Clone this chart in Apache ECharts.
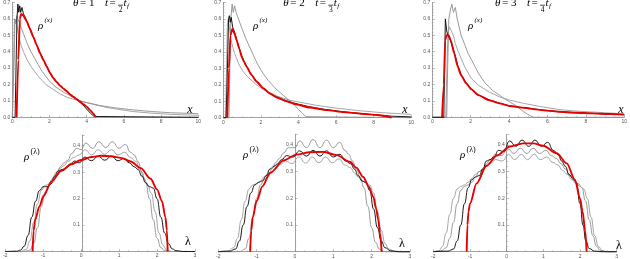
<!DOCTYPE html>
<html><head><meta charset="utf-8">
<script src="https://cdn.jsdelivr.net/npm/echarts@6/dist/echarts.min.js"></script>
<style>html,body{margin:0;padding:0;background:#fff}#c{width:630px;height:259px}</style>
</head><body><div id="c"></div>
<script>
// ---------- data: top row, rho^(x) ----------
const top1Red = [[0.23,0],[0.32,0.35],[0.41,0.6],[0.47,0.63],[0.59,0.62],[0.77,0.586],[0.95,0.54],[1.13,0.49],[1.31,0.44],[1.49,0.39],[1.67,0.35],[1.85,0.31],[2.03,0.27],[2.2,0.24],[2.38,0.216],[2.56,0.194],[2.74,0.176],[2.92,0.16],[3.1,0.14],[3.28,0.125],[3.46,0.11],[3.64,0.095],[3.82,0.08],[4.0,0.065],[4.18,0.044],[4.35,0.024],[4.44,0.01],[4.48,0]];
const top1Black = [[0,0],[0.15,0],[0.2,0.3],[0.25,0.6],[0.3,0.69],[0.35,0.64],[0.4,0.68],[0.45,0.64],[0.52,0.67],[0.6,0.63],[0.7,0.61],[0.8,0.58],[0.9,0.55],[1.0,0.52],[1.1,0.5],[1.2,0.47],[1.3,0.445],[1.4,0.42],[1.6,0.37],[1.8,0.32],[2.0,0.275],[2.2,0.24],[2.4,0.21],[2.6,0.19],[2.8,0.17],[3.0,0.15],[3.2,0.13],[3.4,0.115],[3.6,0.095],[3.8,0.075],[4.0,0.05],[4.2,0.025],[4.4,0.005],[4.5,0],[10,0]];
const top1GrayA = [[0,0],[0.06,0],[0.1,0.35],[0.14,0.6],[0.2,0.58],[0.25,0.62],[0.3,0.6],[0.4,0.57],[0.5,0.54],[0.6,0.51],[0.8,0.45],[1.0,0.4],[1.2,0.36],[1.4,0.32],[1.6,0.28],[1.8,0.25],[2.0,0.22],[2.2,0.2],[2.4,0.18],[2.6,0.165],[2.8,0.15],[3.0,0.14],[3.2,0.125],[3.5,0.11],[3.8,0.095],[4.2,0.085],[4.7,0.072],[5.5,0.058],[6.5,0.045],[7.5,0.035],[8.5,0.028],[10,0.022]];
const top1GrayB = [[0,0],[0.04,0],[0.08,0.4],[0.12,0.6],[0.17,0.57],[0.22,0.6],[0.3,0.52],[0.4,0.47],[0.5,0.43],[0.6,0.4],[0.8,0.35],[1.0,0.31],[1.2,0.28],[1.4,0.25],[1.6,0.225],[1.8,0.2],[2.0,0.185],[2.2,0.17],[2.4,0.155],[2.6,0.14],[2.8,0.13],[3.0,0.12],[3.3,0.11],[3.6,0.1],[4.0,0.09],[4.5,0.075],[5,0.062],[5.5,0.052],[6.5,0.035],[7.5,0.025],[8.5,0.018],[10,0.012]];

const top2Red = [[0.21,0],[0.3,0.3],[0.38,0.5],[0.48,0.54],[0.6,0.51],[0.71,0.47],[0.85,0.42],[0.98,0.37],[1.1,0.34],[1.24,0.31],[1.5,0.26],[1.77,0.22],[2.13,0.18],[2.48,0.147],[2.84,0.123],[3.37,0.1],[3.9,0.08],[4.6,0.062],[5.5,0.046],[6.4,0.034],[7.3,0.024],[8.2,0.016],[8.6,0.01],[8.95,0]];
const top2Black = [[0,0],[0.15,0],[0.22,0.3],[0.28,0.6],[0.32,0.62],[0.37,0.58],[0.42,0.61],[0.5,0.55],[0.6,0.52],[0.7,0.48],[0.85,0.42],[1.0,0.37],[1.2,0.32],[1.4,0.28],[1.6,0.245],[1.8,0.215],[2.0,0.19],[2.3,0.16],[2.6,0.14],[3.0,0.118],[3.5,0.097],[4,0.082],[4.6,0.066],[5.5,0.049],[6.4,0.036],[7.3,0.026],[8.2,0.016],[9,0.009],[10,0.005]];
const top2GrayA = [[0,0],[0.3,0],[0.35,0.3],[0.4,0.6],[0.47,0.69],[0.53,0.64],[0.6,0.68],[0.68,0.64],[0.78,0.61],[0.9,0.57],[1.0,0.54],[1.2,0.48],[1.4,0.43],[1.6,0.38],[1.8,0.33],[2.0,0.29],[2.2,0.255],[2.4,0.225],[2.6,0.2],[2.8,0.175],[3.0,0.155],[3.2,0.135],[3.4,0.115],[3.6,0.095],[3.8,0.075],[4.0,0.05],[4.2,0.027],[4.4,0.006],[4.5,0],[10,0]];
const top2GrayB = [[0,0],[0.12,0],[0.17,0.3],[0.22,0.58],[0.27,0.6],[0.32,0.55],[0.4,0.48],[0.5,0.43],[0.6,0.39],[0.71,0.36],[0.85,0.32],[1.0,0.29],[1.2,0.26],[1.42,0.235],[1.77,0.2],[2.13,0.17],[2.5,0.15],[2.84,0.132],[3.2,0.118],[3.55,0.106],[4.26,0.09],[4.96,0.075],[6.0,0.058],[7.3,0.042],[8.5,0.03],[10,0.02]];

const top3Red = [[0.51,0],[0.6,0.2],[0.67,0.47],[0.74,0.5],[0.85,0.5],[0.96,0.47],[1.14,0.39],[1.32,0.31],[1.5,0.256],[1.77,0.206],[2.04,0.17],[2.4,0.135],[2.95,0.105],[3.49,0.085],[4.03,0.069],[4.76,0.058],[5.66,0.044],[6.56,0.034],[7.47,0.028],[8.37,0.024],[9.28,0.02],[10,0.016]];
const top3Black = [[0,0],[0.6,0],[0.64,0.3],[0.68,0.6],[0.72,0.61],[0.76,0.52],[0.82,0.5],[0.9,0.48],[1.0,0.45],[1.14,0.4],[1.32,0.32],[1.5,0.26],[1.77,0.21],[2.04,0.172],[2.4,0.137],[2.95,0.107],[3.5,0.087],[4.0,0.07],[4.8,0.058],[5.7,0.045],[6.6,0.035],[7.5,0.028],[8.4,0.023],[9.3,0.019],[10,0.016]];
const top3GrayA = [[0,0],[0.75,0],[0.8,0.3],[0.86,0.6],[0.95,0.66],[1.02,0.69],[1.1,0.64],[1.2,0.67],[1.3,0.6],[1.5,0.5],[1.7,0.44],[1.86,0.39],[2.05,0.35],[2.22,0.31],[2.4,0.27],[2.59,0.236],[2.75,0.21],[2.95,0.186],[3.13,0.165],[3.31,0.15],[3.5,0.135],[3.67,0.12],[3.85,0.107],[4.03,0.095],[4.2,0.082],[4.39,0.069],[4.58,0.05],[4.76,0.034],[4.95,0.02],[5.12,0.008],[5.3,0],[10,0]];
const top3GrayB = [[0,0],[0.7,0],[0.76,0.3],[0.82,0.52],[0.9,0.55],[1.0,0.55],[1.1,0.5],[1.2,0.45],[1.32,0.41],[1.5,0.36],[1.68,0.31],[2.04,0.236],[2.4,0.196],[2.95,0.155],[3.49,0.125],[4.03,0.105],[4.76,0.085],[5.66,0.065],[6.56,0.048],[7.47,0.038],[8.37,0.032],[9.28,0.026],[10,0.021]];

// ---------- data: bottom row, rho^(lambda) ----------
const lam1Red = [[-1.28,0],[-1.25,0.08],[-1.21,0.12],[-1.1,0.17],[-0.99,0.21],[-0.78,0.265],[-0.52,0.305],[-0.26,0.33],[0,0.346],[0.27,0.357],[0.53,0.362],[0.79,0.36],[1.05,0.354],[1.31,0.34],[1.57,0.315],[1.83,0.275],[2.0,0.235],[2.13,0.19],[2.22,0.13],[2.26,0.08],[2.28,0]];
const lam1Black = [[-2,0],[-1.7,0.001],[-1.6,0.005],[-1.5,0.02],[-1.4,0.06],[-1.3,0.13],[-1.2,0.19],[-1.1,0.23],[-1.0,0.245],[-0.9,0.245],[-0.8,0.255],[-0.7,0.285],[-0.6,0.305],[-0.5,0.31],[-0.4,0.315],[-0.3,0.33],[-0.17,0.342],[-0.05,0.335],[0.1,0.357],[0.27,0.343],[0.45,0.36],[0.62,0.345],[0.8,0.36],[0.97,0.343],[1.13,0.352],[1.27,0.335],[1.4,0.32],[1.5,0.31],[1.6,0.285],[1.7,0.26],[1.8,0.245],[1.9,0.24],[2.0,0.2],[2.1,0.13],[2.2,0.07],[2.3,0.03],[2.4,0.01],[2.5,0.003],[2.7,0],[3,0]];
const lam1GrayA = [[-2,0],[-1.5,0],[-1.35,0.005],[-1.25,0.03],[-1.15,0.09],[-1.05,0.17],[-0.95,0.225],[-0.85,0.25],[-0.75,0.26],[-0.65,0.285],[-0.55,0.32],[-0.45,0.335],[-0.35,0.345],[-0.25,0.37],[-0.12,0.39],[0.0,0.385],[0.12,0.41],[0.3,0.39],[0.47,0.415],[0.65,0.393],[0.82,0.415],[1.0,0.39],[1.17,0.405],[1.3,0.375],[1.4,0.365],[1.5,0.34],[1.6,0.3],[1.7,0.26],[1.8,0.2],[1.9,0.12],[2.0,0.05],[2.1,0.015],[2.2,0.003],[2.4,0],[3,0]];
const lam1GrayB = [[-2,0],[-1.6,0],[-1.45,0.008],[-1.35,0.04],[-1.25,0.11],[-1.15,0.18],[-1.05,0.23],[-0.95,0.25],[-0.85,0.255],[-0.75,0.275],[-0.65,0.3],[-0.55,0.315],[-0.45,0.325],[-0.35,0.34],[-0.2,0.355],[-0.05,0.365],[0.1,0.385],[0.28,0.365],[0.45,0.385],[0.62,0.367],[0.8,0.385],[0.97,0.365],[1.15,0.375],[1.3,0.355],[1.45,0.34],[1.55,0.31],[1.65,0.28],[1.75,0.25],[1.85,0.22],[1.95,0.15],[2.05,0.07],[2.15,0.025],[2.25,0.006],[2.4,0],[3,0]];

const lam2Red = [[-1.17,0],[-1.14,0.08],[-1.1,0.13],[-1.0,0.19],[-0.85,0.245],[-0.65,0.295],[-0.3,0.342],[0.04,0.364],[0.39,0.373],[0.74,0.374],[1.09,0.362],[1.43,0.337],[1.6,0.315],[1.78,0.28],[1.92,0.245],[2.04,0.206],[2.12,0.16],[2.17,0.12],[2.22,0.07],[2.26,0]];
const lam2Black = [[-2,0],[-1.7,0.002],[-1.55,0.01],[-1.45,0.04],[-1.35,0.1],[-1.25,0.17],[-1.15,0.22],[-1.05,0.25],[-0.95,0.26],[-0.85,0.265],[-0.75,0.285],[-0.65,0.31],[-0.55,0.32],[-0.45,0.33],[-0.35,0.345],[-0.22,0.36],[-0.05,0.355],[0.12,0.378],[0.3,0.358],[0.47,0.38],[0.65,0.358],[0.82,0.378],[1.0,0.355],[1.17,0.365],[1.32,0.34],[1.45,0.33],[1.55,0.31],[1.65,0.285],[1.75,0.265],[1.85,0.26],[1.95,0.23],[2.05,0.16],[2.15,0.09],[2.25,0.04],[2.35,0.015],[2.5,0.003],[2.7,0],[3,0]];
const lam2GrayA = [[-2,0],[-1.45,0],[-1.3,0.01],[-1.2,0.05],[-1.1,0.13],[-1.0,0.2],[-0.9,0.25],[-0.8,0.27],[-0.7,0.28],[-0.6,0.31],[-0.5,0.335],[-0.4,0.35],[-0.3,0.37],[-0.17,0.39],[0,0.39],[0.12,0.415],[0.3,0.39],[0.47,0.42],[0.65,0.39],[0.82,0.418],[1.0,0.39],[1.17,0.41],[1.3,0.38],[1.4,0.365],[1.5,0.34],[1.6,0.31],[1.7,0.28],[1.8,0.24],[1.9,0.17],[2.0,0.09],[2.1,0.035],[2.2,0.01],[2.35,0],[3,0]];
const lam2GrayB = [[-2,0],[-1.75,0.002],[-1.6,0.015],[-1.5,0.05],[-1.4,0.12],[-1.3,0.19],[-1.2,0.235],[-1.1,0.25],[-1.0,0.255],[-0.9,0.265],[-0.8,0.28],[-0.7,0.295],[-0.6,0.3],[-0.5,0.31],[-0.4,0.325],[-0.25,0.34],[-0.08,0.33],[0.1,0.355],[0.28,0.332],[0.45,0.355],[0.62,0.333],[0.8,0.355],[0.97,0.333],[1.15,0.348],[1.3,0.325],[1.45,0.315],[1.55,0.295],[1.65,0.28],[1.75,0.265],[1.85,0.258],[1.95,0.25],[2.05,0.22],[2.15,0.15],[2.25,0.08],[2.35,0.03],[2.45,0.01],[2.6,0.002],[2.8,0],[3,0]];

const lam3Red = [[-1.09,0],[-1.07,0.1],[-1.04,0.15],[-1.0,0.18],[-0.82,0.256],[-0.55,0.322],[-0.27,0.36],[0.09,0.394],[0.45,0.406],[0.73,0.406],[1.0,0.397],[1.36,0.369],[1.64,0.331],[1.86,0.27],[2.0,0.2],[2.07,0.15],[2.14,0.08],[2.18,0]];
const lam3Black = [[-2,0],[-1.6,0.002],[-1.45,0.01],[-1.35,0.04],[-1.25,0.1],[-1.15,0.18],[-1.05,0.24],[-0.95,0.27],[-0.85,0.28],[-0.75,0.285],[-0.65,0.31],[-0.55,0.34],[-0.45,0.345],[-0.35,0.355],[-0.22,0.38],[-0.08,0.375],[0.08,0.415],[0.25,0.395],[0.42,0.418],[0.6,0.395],[0.77,0.418],[0.95,0.395],[1.12,0.41],[1.27,0.38],[1.4,0.365],[1.5,0.34],[1.6,0.32],[1.7,0.29],[1.8,0.275],[1.9,0.26],[2.0,0.18],[2.08,0.1],[2.16,0.04],[2.25,0.012],[2.4,0.002],[2.6,0],[3,0]];
const lam3GrayA = [[-2,0],[-1.8,0.002],[-1.65,0.015],[-1.55,0.05],[-1.45,0.11],[-1.35,0.18],[-1.25,0.23],[-1.15,0.245],[-1.05,0.25],[-0.95,0.26],[-0.85,0.28],[-0.75,0.3],[-0.65,0.31],[-0.55,0.33],[-0.45,0.345],[-0.3,0.365],[-0.15,0.36],[0.03,0.385],[0.2,0.368],[0.37,0.388],[0.55,0.368],[0.72,0.388],[0.9,0.368],[1.07,0.38],[1.22,0.36],[1.35,0.35],[1.48,0.33],[1.6,0.31],[1.72,0.285],[1.85,0.265],[1.95,0.255],[2.05,0.24],[2.15,0.19],[2.25,0.12],[2.35,0.06],[2.45,0.02],[2.55,0.005],[2.7,0],[3,0]];
const lam3GrayB = [[-2,0],[-1.85,0.003],[-1.75,0.02],[-1.65,0.07],[-1.55,0.14],[-1.45,0.2],[-1.35,0.235],[-1.25,0.245],[-1.15,0.25],[-1.05,0.26],[-0.95,0.275],[-0.85,0.29],[-0.75,0.3],[-0.6,0.315],[-0.45,0.33],[-0.3,0.345],[-0.12,0.34],[0.05,0.365],[0.22,0.345],[0.4,0.365],[0.57,0.345],[0.75,0.365],[0.92,0.345],[1.1,0.355],[1.25,0.335],[1.4,0.325],[1.52,0.305],[1.65,0.29],[1.78,0.27],[1.9,0.255],[2.0,0.245],[2.1,0.235],[2.2,0.2],[2.3,0.13],[2.4,0.06],[2.5,0.02],[2.6,0.005],[2.75,0],[3,0]];

// ---------- labels ----------
const thetaValues = ['1','2','3'];
const fracDenoms = ['2','3','4'];

// ---------- layout ----------
const grids = [
  {left:12.3, top:1.7, width:186, height:115.6},
  {left:223.3, top:1.7, width:188, height:116},
  {left:432.3, top:1.7, width:194.7, height:115.6},
  {left:3, top:135.1, width:192, height:116.4},
  {left:218.3, top:134.3, width:191.7, height:117.4},
  {left:433.3, top:134.3, width:183.4, height:117.4}
];
const xRanges = [[0,10,2],[0,10,2],[0,10,2],[-2,3,1],[-2,3,1],[-2,3,1]];
const AX = '#8a8a8a', LBL = '#555';
const FONT_SERIF = '"Liberation Serif", "DejaVu Serif", serif';

function xAx(i) {
  const [min, max, interval] = xRanges[i];
  return {gridIndex:i, type:'value', min, max, interval, position:'bottom',
    axisLine:{show:true, onZero:false, lineStyle:{color:AX, width:0.8}},
    axisTick:{show:true, inside:true, length:2.5, lineStyle:{color:AX, width:0.6}},
    minorTick:{show:true, splitNumber:4, length:1.3, lineStyle:{color:AX, width:0.5}},
    splitLine:{show:false},
    axisLabel:{show:true, fontSize:5, color:LBL, margin:2, fontFamily:'Liberation Sans', showMaxLabel:true, showMinLabel:true,
      formatter: v => String(Math.round(v))}
  };
}
function yAx(i, max, isTop) {
  // place the vertical axis at x = 0 of its panel
  const [xmin, xmax] = xRanges[i];
  const off = -((0 - xmin) / (xmax - xmin)) * grids[i].width;
  return {gridIndex:i, type:'value', min:0, max, interval:0.1, position:'left', offset: off,
    axisLine:{show:true, onZero:false, lineStyle:{color:AX, width:0.8}},
    axisTick:{show:true, inside:true, length:2.5, lineStyle:{color:AX, width:0.6}},
    minorTick:{show:true, splitNumber:5, length:1.3, lineStyle:{color:AX, width:0.5}},
    splitLine:{show:false},
    axisLabel:{show:true, fontSize:5, color:LBL, margin:2, fontFamily:'Liberation Sans', showMaxLabel:isTop,
      formatter: v => {
        const r = Math.round(v*10)/10;
        if (Math.abs(r - v) > 1e-6) return '';
        if (!isTop && r === 0) return '';
        return r.toFixed(1);
      }}
  };
}

const xAxes = [0,1,2,3,4,5].map(xAx);
const yAxes = [yAx(0,0.7,true), yAx(1,0.7,true), yAx(2,0.7,true), yAx(3,0.44,false), yAx(4,0.44,false), yAx(5,0.44,false)];

function line(i, data, color, width, z, smooth) {
  return {type:'line', xAxisIndex:i, yAxisIndex:i, data, showSymbol:false, symbol:'none',
    smooth: smooth, smoothMonotone:'x', z, silent:true, animation:false, clip:false,
    lineStyle:{color, width}};
}
const G1 = '#8e8e8e', G2 = '#9c9c9c', RED = '#e80000';
const panels = [
  [top1GrayB, top1GrayA, top1Black, top1Red, false],
  [top2GrayB, top2GrayA, top2Black, top2Red, false],
  [top3GrayB, top3GrayA, top3Black, top3Red, false],
  [lam1GrayB, lam1GrayA, lam1Black, lam1Red, true],
  [lam2GrayB, lam2GrayA, lam2Black, lam2Red, true],
  [lam3GrayB, lam3GrayA, lam3Black, lam3Red, true]
];
const series = [];
panels.forEach((p, i) => {
  const sm = p[4] ? 0.5 : 0;
  series.push(line(i, p[0], G2, 0.9, 2, sm));
  series.push(line(i, p[1], G1, 0.9, 3, sm));
  series.push(line(i, p[2], '#000', 0.9, 4, sm));
  series.push(line(i, p[3], RED, 1.9, 5, p[4] ? 0.3 : 0.2));
});

// ---------- text decorations ----------
const graphic = [];
function txt(x, y, text, size, italic, align) {
  graphic.push({type:'text', x, y, silent:true, z:100,
    style:{text, font:(italic?'italic ':'') + size + 'px ' + FONT_SERIF, fill:'#000',
      align: align || 'left', verticalAlign:'middle'}});
}
const titleX = [73, 283.3, 495];
titleX.forEach((x0, k) => {
  txt(x0, 3, 'θ', 11, true);
  txt(x0 + 7, 3, '= ' + thetaValues[k], 11, false);
  txt(x0 + 32, 3, 't', 11, true);
  txt(x0 + 36.5, 3, '=', 11, false);
  graphic.push({type:'line', silent:true, z:100, shape:{x1:x0+45, y1:5.2, x2:x0+50, y2:5.2}, style:{stroke:'#000', lineWidth:0.7}});
  txt(x0 + 47.5, 9.6, fracDenoms[k], 7.5, false, 'center');
  txt(x0 + 50.5, 3, 't', 11, true);
  txt(x0 + 54, 6.5, 'f', 7, true);
});
// rho^(x) labels
[[38,26],[253,26],[468,26]].forEach(([x,y]) => { txt(x, y, 'ρ', 11, true); txt(x + 6.5, y - 6, '(x)', 7, true); });
// rho^(lambda) labels
[[24,157],[243,155],[460,155]].forEach(([x,y]) => { txt(x, y, 'ρ', 11, true); txt(x + 6.5, y - 5, '(λ)', 8, false); });
// axis names
[[190,110],[405,110],[621,110]].forEach(([x,y]) => txt(x, y, 'x', 12, true, 'center'));
[[188,242],[402,244],[619,246]].forEach(([x,y]) => txt(x, y, 'λ', 12, false, 'center'));

const chart = echarts.init(document.getElementById('c'), null, {renderer:'canvas', width:630, height:259});
chart.setOption({
  animation:false,
  backgroundColor:'#fff',
  grid: grids,
  xAxis: xAxes,
  yAxis: yAxes,
  series,
  graphic
});
</script>
</body></html>
